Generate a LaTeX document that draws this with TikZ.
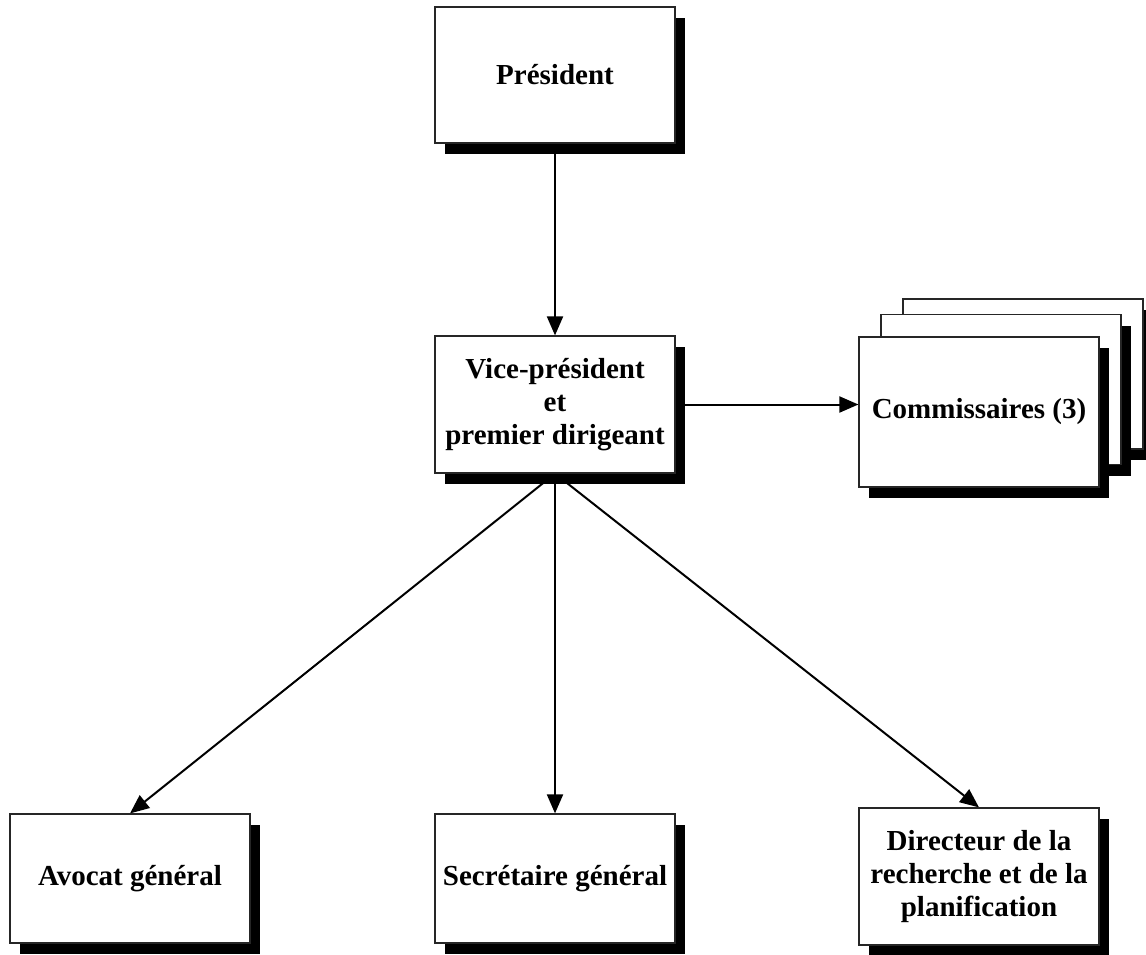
\documentclass[tikz,border=0pt]{standalone}
\usepackage{fontspec}
\setmainfont{Liberation Serif}
\usetikzlibrary{arrows.meta, backgrounds, positioning, shadows}

\tikzset{
  orgbox/.style={draw=black!85, line width=1.2pt, fill=white, align=center, inner sep=0,
    minimum width=240, font=\fontsize{29}{33}\selectfont\bfseries,
    drop shadow={fill=black, opacity=1, shadow xshift=10pt, shadow yshift=-11pt}},
  link/.style={-{Triangle[length=19pt, width=16pt]}, line width=2pt, black}
}

\begin{document}
\begin{tikzpicture}[x=1pt, y=-1pt]
\useasboundingbox (0,0) rectangle (1146,955);

% --- Top of the chart ---
\node [orgbox, minimum height=136] at (555,75) (president) {Président};
\node [orgbox, minimum height=137] at (555,404.5) (vice) {Vice-président\\ et\\ premier dirigeant};

% --- Commissaires (stack of three) ---
\node [orgbox, minimum height=150] at (1023,374) (comm3) {};
\node [orgbox, minimum height=150] at (1001,389.5) (comm2) {};
\node [orgbox, minimum height=150] at (979,412) (comm) {Commissaires (3)};

% --- Bottom row ---
\node [orgbox, minimum height=129] at (130,878.5) (avocat) {Avocat général};
\node [orgbox, minimum height=129] at (555,878.5) (secretaire) {Secrétaire général};
\node [orgbox, minimum height=137] at (979,876.5) (directeur) {Directeur de la\\ recherche et de la\\ planification};

% --- Arrows ---
\begin{scope}[on background layer]
\draw [link] (president.south) -- (vice.north);
\draw [link] (vice.east) -- (vice.east -| comm.west);
\draw [link] (vice.south) -- (avocat.north);
\draw [link] (vice.south) -- (secretaire.north);
\draw [link] (vice.south) -- (directeur.north);
\end{scope}
\end{tikzpicture}
\end{document}
